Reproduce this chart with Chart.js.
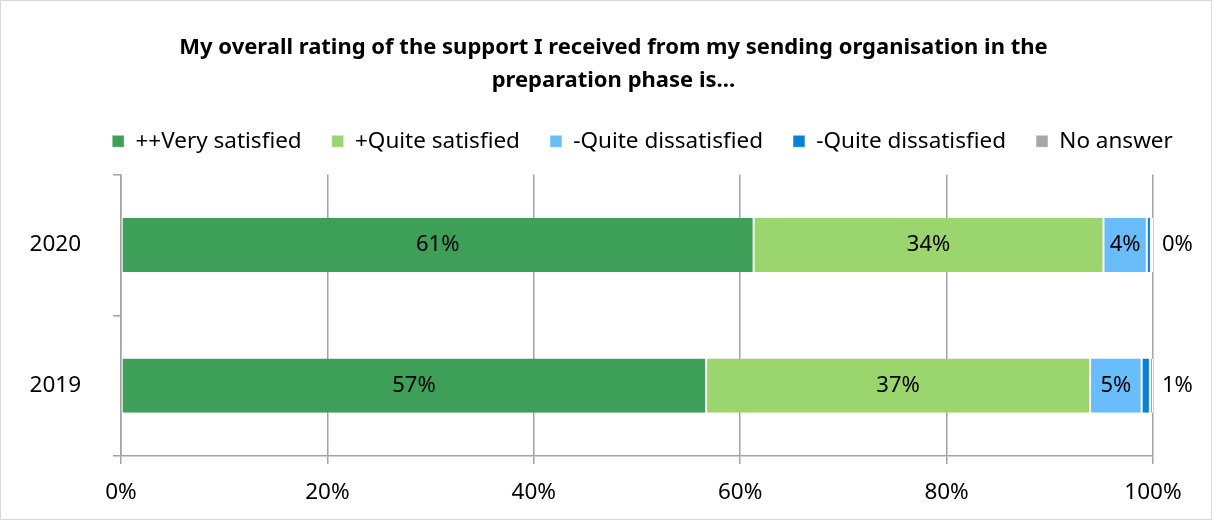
<!DOCTYPE html>
<html>
<head>
<meta charset="utf-8">
<script src="https://cdn.jsdelivr.net/npm/chart.js@4"></script>
<style>
  body { margin: 0; background: #fff; }
  #wrap { width: 1212px; height: 520px; }
</style>
</head>
<body>
<div id="wrap"><canvas id="myChart" width="1212" height="520"></canvas></div>
<script>
// data (percent)
const years = ['2020', '2019'];
const seriesNames = ['++Very satisfied', '+Quite satisfied', '-Quite dissatisfied', '-Quite dissatisfied', 'No answer'];
const verySatisfied = [61.3, 56.7];
const quiteSatisfied = [33.9, 37.2];
const quiteDissatisfied = [4.2, 5.0];
const dissatisfied = [0.4, 0.8];
const noAnswer = [0.2, 0.3];
const xTicks = [0, 20, 40, 60, 80, 100];

const colors = ['#3d9f58', '#9bd56d', '#68bdfa', '#0b80d8', '#a6a6a6'];
const FONT = '"Noto Sans", "Open Sans", sans-serif';
const gridColor = '#a3a3a3';

// value labels: inside for the big pieces, outside to the right for the small blue one
const valueLabels = {
  id: 'valueLabels',
  afterDatasetsDraw(chart) {
    const ctx = chart.ctx;
    ctx.save();
    ctx.font = '22px ' + FONT;
    ctx.fillStyle = '#000';
    ctx.textBaseline = 'middle';
    chart.data.datasets.forEach(function(ds, i) {
      if (i > 3) return;
      chart.getDatasetMeta(i).data.forEach(function(bar, j) {
        const txt = Math.round(ds.data[j]) + '%';
        if (i < 3) {
          ctx.textAlign = 'center';
          ctx.fillText(txt, (bar.x + bar.base) / 2, bar.y);
        } else {
          ctx.textAlign = 'left';
          ctx.fillText(txt, chart.chartArea.right + 9, bar.y);
        }
      });
    });
    ctx.restore();
  }
};

const frame = {
  id: 'frame',
  beforeInit(chart) {
    // extra gap between the legend and the plot
    const fit = chart.legend.fit;
    chart.legend.fit = function() {
      fit.call(this);
      this.height += 12;
    };
  },
  afterLayout(chart) {
    // title and legend sit right of the plot centre in the original
    chart.titleBlock.left += 37;
    chart.titleBlock.right += 37;
    chart.legend.left += 66;
    chart.legend.right += 66;
  },
  afterDraw(chart) {
    const ctx = chart.ctx;
    ctx.save();
    ctx.strokeStyle = '#d9d9d9';
    ctx.lineWidth = 1;
    ctx.strokeRect(0.5, 0.5, chart.width - 1, chart.height - 1);
    ctx.restore();
  }
};

const dataSets = [verySatisfied, quiteSatisfied, quiteDissatisfied, dissatisfied, noAnswer].map(function(d, i) {
  return {
    label: seriesNames[i],
    data: d,
    backgroundColor: colors[i],
    borderColor: '#ffffff',
    borderWidth: { left: 1, right: 1, top: 0, bottom: 0 },
    borderSkipped: false,
    barPercentage: 0.55,
    categoryPercentage: 0.7
  };
});

const ctx = document.getElementById('myChart').getContext('2d');
const chart = new Chart(ctx, {
  type: 'bar',
  data: { labels: years, datasets: dataSets },
  plugins: [valueLabels, frame],
  options: {
    indexAxis: 'y',
    responsive: false,
    animation: false,
    layout: { padding: { left: 0, right: 59, top: 31, bottom: 0 } },
    plugins: {
      tooltip: { enabled: false },
      title: {
        display: true,
        text: ['My overall rating of the support I received from my sending organisation in the', 'preparation phase is\u2026'],
        color: '#000',
        font: { family: FONT, size: 22, weight: 'bold', lineHeight: 1.5 },
        padding: { top: 0, bottom: 3 }
      },
      legend: {
        position: 'top',
        labels: {
          color: '#000',
          font: { family: FONT, size: 22.5 },
          boxWidth: 12,
          boxHeight: 12,
          padding: 30
        }
      }
    },
    scales: {
      x: {
        stacked: true,
        min: 0,
        max: 100,
        afterBuildTicks(scale) {
          scale.ticks = xTicks.map(function(v) { return { value: v }; });
        },
        ticks: {
          color: '#000',
          font: { family: FONT, size: 22.5 },
          padding: 15,
          callback: function(v) { return v + '%'; }
        },
        grid: { color: gridColor, lineWidth: 1.5, tickLength: 8 },
        border: { color: gridColor, width: 1.5 },
        afterFit(scale) { scale.height = 64; }
      },
      y: {
        stacked: true,
        ticks: {
          color: '#000',
          font: { family: FONT, size: 22.5 },
          padding: 32
        },
        grid: { drawOnChartArea: false, color: gridColor, lineWidth: 1.5, tickLength: 8, offset: true },
        border: { color: gridColor, width: 1.5 },
        afterFit(scale) { scale.width = 121; }
      }
    }
  }
});
</script>
</body>
</html>
